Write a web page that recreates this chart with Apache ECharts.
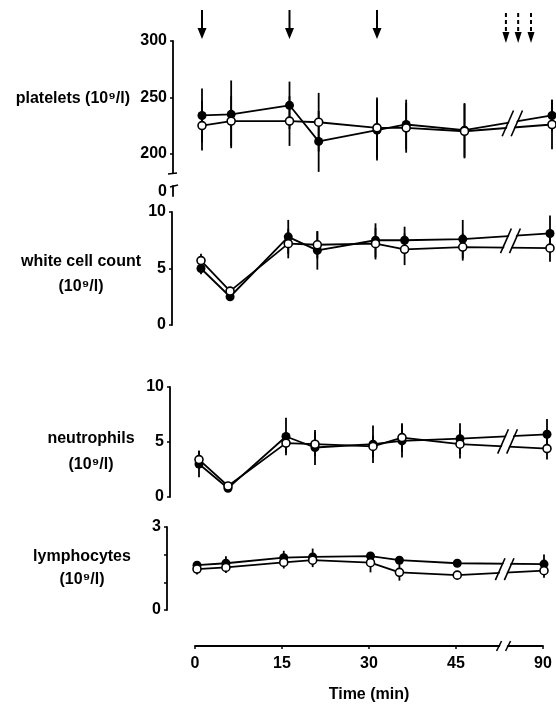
<!DOCTYPE html>
<html>
<head>
<meta charset="utf-8">
<title>Blood cell counts</title>
<script src="https://cdn.jsdelivr.net/npm/echarts@6/dist/echarts.min.js"></script>
<style>
  html, body { margin: 0; padding: 0; background: #fff; }
  #chart { width: 556px; height: 706px; }
</style>
</head>
<body>
<div id="chart"></div>
<script>
// sampling times (min); 90 min is drawn right after the axis break
var times = [0, 5, 15, 20, 30, 35, 45, 90];
var xTicks = [0, 15, 30, 45, 90];
var solidArrowTimes = [0, 15, 30];
var dashedArrowPos = [52.1, 54.2, 56.4];   // axis positions inside the break

var plateletFilled   = [234, 235, 243, 211, 221, 226, 221, 234];
var plateletFilledSD = [24, 30, 21, 27, 27, 22, 24, 14];
var plateletOpen     = [225, 229, 229, 228, 223, 223, 220, 226];
var plateletOpenSD   = [22, 22, 22, 26, 27, 22, 24, 22];
var plateletTicks    = [200, 250, 300];

var wccFilled   = [5.0, 2.5, 7.8, 6.6, 7.5, 7.5, 7.6, 8.1];
var wccFilledSD = [0.5, 0.3, 1.5, 1.7, 1.5, 1.2, 1.7, 1.6];
var wccOpen     = [5.7, 3.0, 7.2, 7.1, 7.2, 6.7, 6.9, 6.8];
var wccOpenSD   = [0.6, 0.3, 1.3, 1.2, 1.4, 1.4, 1.2, 1.2];
var wccTicks    = [0, 5, 10];

var neutFilled   = [3.0, 0.8, 5.5, 4.5, 4.8, 5.1, 5.3, 5.7];
var neutFilledSD = [1.2, 0.2, 1.7, 1.6, 1.7, 1.5, 1.4, 1.4];
var neutOpen     = [3.4, 1.0, 4.9, 4.8, 4.6, 5.4, 4.8, 4.4];
var neutOpenSD   = [0.8, 0.2, 0.9, 1.1, 1.0, 1.3, 1.3, 1.0];
var neutTicks    = [0, 5, 10];

var lymphFilled   = [1.62, 1.69, 1.89, 1.92, 1.95, 1.80, 1.69, 1.66];
var lymphFilledSD = [0.15, 0.25, 0.25, 0.30, 0.12, 0.10, 0.08, 0.35];
var lymphOpen     = [1.48, 1.54, 1.72, 1.80, 1.71, 1.36, 1.26, 1.42];
var lymphOpenSD   = [0.20, 0.20, 0.22, 0.25, 0.35, 0.30, 0.05, 0.25];
var lymphTicks    = [0, 1, 2, 3];
var lymphLabels   = [0, 3];

var FONT = "'Liberation Sans', Arial, Helvetica, sans-serif";
var BREAK_AT = 53.2;

// 0-45 min is linear, 90 min is placed at 60 after the break
function axisPos(t) { return t > 45 ? 60 : t; }

// axis names are rich text; the "gap" line only nudges the block up or down
var panels = [
  {name: '{t|platelets (10⁹/l)}\n{gap| }', lh: 24, gap: 16, filled: plateletFilled, filledSD: plateletFilledSD, open: plateletOpen, openSD: plateletOpenSD,
   min: 183, max: 300, ticks: plateletTicks, labels: plateletTicks,
   top: 41, height: 132, left: 202, width: 350, offset: 29, nameGap: 43, align: 'right'},
  {name: '{gap| }\n{t|white cell count}\n{t|(10⁹/l)}', lh: 25, gap: 12, filled: wccFilled, filledSD: wccFilledSD, open: wccOpen, openSD: wccOpenSD,
   min: 0, max: 10, ticks: wccTicks, labels: wccTicks,
   top: 212, height: 113, left: 201, width: 349, offset: 29, nameGap: 91, align: 'center'},
  {name: '{gap| }\n{t|neutrophils}\n{t|(10⁹/l)}', lh: 26, gap: 20, filled: neutFilled, filledSD: neutFilledSD, open: neutOpen, openSD: neutOpenSD,
   min: 0, max: 10, ticks: neutTicks, labels: neutTicks,
   top: 387, height: 110, left: 199, width: 348, offset: 29, nameGap: 79, align: 'center'},
  {name: '{t|lymphocytes}\n{t|(10⁹/l)}', lh: 23, gap: 0, filled: lymphFilled, filledSD: lymphFilledSD, open: lymphOpen, openSD: lymphOpenSD,
   min: 0, max: 3, ticks: lymphTicks, labels: lymphLabels,
   top: 527, height: 83, left: 197, width: 347, offset: 30, nameGap: 85, align: 'center'}
];

var lineStyleBlack = {color: '#000', width: 1.8};
var axisText = {color: '#000', fontFamily: FONT, fontSize: 16, fontWeight: 'bold'};

function renderErrorBar(params, api) {
  var x = api.value(0), v = api.value(1), e = api.value(2);
  var p1 = api.coord([x, v + e]);
  var p2 = api.coord([x, v - e]);
  return {type: 'line', shape: {x1: p1[0], y1: p1[1], x2: p2[0], y2: p2[1]},
          style: {stroke: '#000', lineWidth: 1.8}};
}

function renderArrow(params, api) {
  var pt = api.coord([api.value(0), 300]);
  var dashed = api.value(1) === 1;
  var x = pt[0];
  var yTip = dashed ? pt[1] + 2 : pt[1] - 2;
  var yTail = dashed ? pt[1] - 28 : pt[1] - 31;
  var headLen = 11, headHalf = dashed ? 3.5 : 4.5;
  return {type: 'group', children: [
    {type: 'line', shape: {x1: x, y1: yTail, x2: x, y2: yTip - headLen + 1},
     style: {stroke: '#000', lineWidth: 2, lineDash: dashed ? [4, 3] : null}},
    {type: 'polygon', shape: {points: [[x - headHalf, yTip - headLen], [x + headHalf, yTip - headLen], [x, yTip]]},
     style: {fill: '#000'}}
  ]};
}

var grid = [], xAxis = [], yAxis = [], series = [];

panels.forEach(function (p, i) {
  grid.push({left: p.left, width: p.width, top: p.top, height: p.height});
  xAxis.push({type: 'value', gridIndex: i, min: 0, max: 60, show: false});
  yAxis.push({
    type: 'value', gridIndex: i, min: p.min, max: p.max, offset: p.offset,
    name: p.name, nameLocation: 'middle', nameRotate: 0, nameGap: p.nameGap,
    nameTextStyle: {color: '#000', fontFamily: FONT, fontSize: 16, fontWeight: 'bold', align: p.align,
      rich: {
        t: {color: '#000', fontFamily: FONT, fontSize: 16, fontWeight: 'bold', lineHeight: p.lh, align: p.align},
        gap: {fontSize: 4, lineHeight: p.gap}
      }},
    axisLine: {show: true, onZero: false, lineStyle: {color: '#000', width: 1.8}},
    axisTick: {show: true, length: 3, lineStyle: {color: '#000', width: 1.5}, customValues: p.ticks},
    axisLabel: Object.assign({margin: 6, customValues: p.labels}, axisText),
    splitLine: {show: false}
  });

  var filledPts = times.map(function (t, k) { return [axisPos(t), p.filled[k]]; });
  var openPts = times.map(function (t, k) { return [axisPos(t), p.open[k]]; });

  series.push({
    type: 'custom', xAxisIndex: i, yAxisIndex: i, renderItem: renderErrorBar, z: 1, silent: true,
    encode: {x: 0, y: 1},
    data: times.map(function (t, k) { return [axisPos(t), p.filled[k], p.filledSD[k]]; })
      .concat(times.map(function (t, k) { return [axisPos(t), p.open[k], p.openSD[k]]; }))
  });
  series.push({
    type: 'line', xAxisIndex: i, yAxisIndex: i, data: filledPts, z: 2, silent: true,
    symbol: 'circle', symbolSize: 9, showAllSymbol: true,
    itemStyle: {color: '#000'}, lineStyle: lineStyleBlack
  });
  series.push({
    type: 'line', xAxisIndex: i, yAxisIndex: i, data: openPts, z: 3, silent: true,
    symbol: 'circle', symbolSize: 8, showAllSymbol: true,
    itemStyle: {color: '#fff', borderColor: '#000', borderWidth: 1.6}, lineStyle: lineStyleBlack
  });
});

// "0" stub below the broken platelet axis
var stubIndex = panels.length;
grid.push({left: panels[0].left, width: panels[0].width, top: 186, height: 10});
xAxis.push({type: 'value', gridIndex: stubIndex, min: 0, max: 60, show: false});
yAxis.push({
  type: 'value', gridIndex: stubIndex, min: -4, max: 6, offset: panels[0].offset,
  axisLine: {show: true, onZero: false, lineStyle: {color: '#000', width: 1.8}},
  axisTick: {show: false},
  axisLabel: Object.assign({margin: 6, customValues: [0]}, axisText),
  splitLine: {show: false}
});

// shared time axis at the bottom
var timeIndex = panels.length + 1;
var tickPos = xTicks.map(axisPos);
grid.push({left: 195, width: 348, top: 600, height: 46});
xAxis.push({
  type: 'value', gridIndex: timeIndex, min: 0, max: 60,
  name: 'Time (min)', nameLocation: 'middle', nameGap: 41,
  nameTextStyle: {color: '#000', fontFamily: FONT, fontSize: 16, fontWeight: 'bold'},
  axisLine: {show: true, onZero: false, lineStyle: {color: '#000', width: 1.8}},
  axisTick: {show: true, length: 3, lineStyle: {color: '#000', width: 1.5}, customValues: tickPos},
  axisLabel: Object.assign({margin: 10, customValues: tickPos, formatter: function (v) {
    return String(xTicks[tickPos.indexOf(v)]);
  }}, axisText),
  splitLine: {show: false}
});
yAxis.push({type: 'value', gridIndex: timeIndex, min: 0, max: 1, show: false});

series.push({
  type: 'custom', xAxisIndex: 0, yAxisIndex: 0, renderItem: renderArrow, clip: false, silent: true,
  encode: {x: 0},
  data: solidArrowTimes.map(function (t) { return [t, 0]; })
    .concat(dashedArrowPos.map(function (t) { return [t, 1]; }))
});

var chart = echarts.init(document.getElementById('chart'));
chart.setOption({
  animation: false,
  backgroundColor: '#fff',
  grid: grid, xAxis: xAxis, yAxis: yAxis, series: series
});

// axis-break marks "//"
function breakMark(cx, yT, yB, gap) {
  var s = Math.max(2.5, (yB - yT) * 0.22);
  var l = cx - gap / 2, r = cx + gap / 2;
  return [
    {type: 'polygon', z: 100, silent: true,
     shape: {points: [[l - s + 1, yB + 1], [l + s + 1, yT - 1], [r + s - 1, yT - 1], [r - s - 1, yB + 1]]},
     style: {fill: '#fff'}},
    {type: 'line', z: 101, silent: true, shape: {x1: l - s, y1: yB, x2: l + s, y2: yT}, style: {stroke: '#000', lineWidth: 1.6}},
    {type: 'line', z: 101, silent: true, shape: {x1: r - s, y1: yB, x2: r + s, y2: yT}, style: {stroke: '#000', lineWidth: 1.6}}
  ];
}

var graphics = [];
panels.forEach(function (p, i) {
  var vals = [p.filled[6], p.filled[7], p.open[6], p.open[7]];
  var hi = chart.convertToPixel({gridIndex: i}, [BREAK_AT, Math.max.apply(null, vals)]);
  var lo = chart.convertToPixel({gridIndex: i}, [BREAK_AT, Math.min.apply(null, vals)]);
  graphics = graphics.concat(breakMark(hi[0], hi[1] - 5, lo[1] + 5, 9));
});
var axisPt = chart.convertToPixel({gridIndex: timeIndex}, [BREAK_AT, 0]);
graphics = graphics.concat(breakMark(axisPt[0], axisPt[1] - 5, axisPt[1] + 5, 9));

// break marks on the platelet axis
var ax = panels[0].left - panels[0].offset;
var yBase = chart.convertToPixel({gridIndex: 0}, [0, panels[0].min])[1];
var yStub = chart.convertToPixel({gridIndex: stubIndex}, [0, 6])[1];
graphics.push({type: 'line', z: 101, silent: true, shape: {x1: ax - 5, y1: yBase + 1, x2: ax + 4, y2: yBase}, style: {stroke: '#000', lineWidth: 1.5}});
graphics.push({type: 'line', z: 101, silent: true, shape: {x1: ax - 3, y1: yStub + 1, x2: ax + 5, y2: yStub - 1}, style: {stroke: '#000', lineWidth: 1.5}});

chart.setOption({graphic: graphics});
</script>
</body>
</html>
